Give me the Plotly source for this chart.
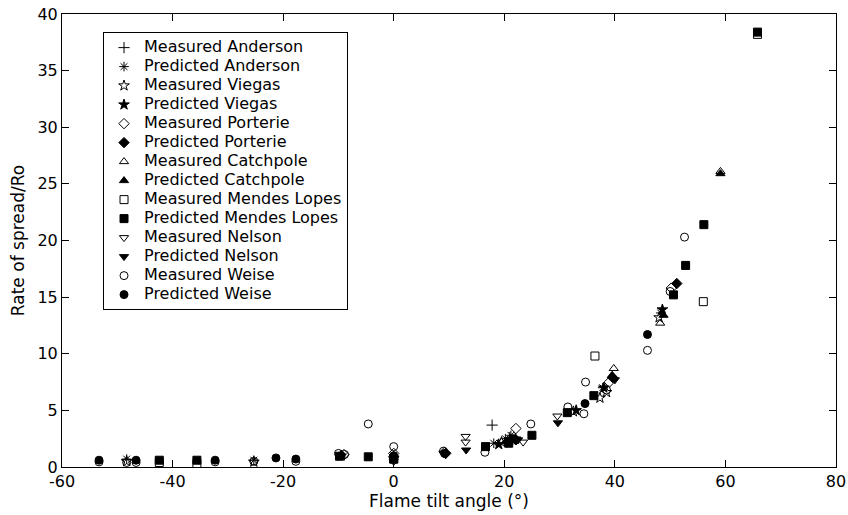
import plotly.graph_objects as go

# ---- data ----
meas_anderson_x = [17.8, 21.0]
meas_anderson_y = [3.7, 2.6]
pred_anderson_x = [-48.3, -25.3, 18.1, 20.2, 21.2, 37.8, 48.3]
pred_anderson_y = [0.7, 0.6, 2.1, 2.5, 2.8, 7.0, 13.6]

meas_viegas_x = [-48.3, -25.3, 19.5, 22.0, 32.5, 37.3, 38.5, 48.0]
meas_viegas_y = [0.5, 0.45, 2.2, 2.5, 4.9, 6.1, 6.6, 13.2]
pred_viegas_x = [-9.5, 19.0, 21.0, 33.0, 38.0, 48.6]
pred_viegas_y = [1.0, 2.0, 2.4, 5.0, 7.0, 13.9]

meas_porterie_x = [-9.0, 0.0, 9.2, 22.1, 39.0, 50.2]
meas_porterie_y = [1.1, 1.2, 1.3, 3.4, 7.5, 15.8]
pred_porterie_x = [0.0, 9.4, 20.5, 22.1, 39.6, 51.2]
pred_porterie_y = [0.9, 1.2, 2.2, 2.4, 7.9, 16.2]

meas_catchpole_x = [39.8, 48.2, 59.1]
meas_catchpole_y = [8.7, 12.7, 26.1]
pred_catchpole_x = [39.5, 48.8, 59.1]
pred_catchpole_y = [8.1, 13.4, 25.9]

meas_mendes_x = [-42.4, -35.6, 0.0, 36.4, 56.0, 65.8]
meas_mendes_y = [0.4, 0.3, 0.7, 9.8, 14.6, 38.2]
pred_mendes_x = [-42.4, -35.6, -9.8, -4.6, 0.0, 16.6, 20.8, 25.0, 31.4, 36.2, 50.6, 52.8, 56.1, 65.8]
pred_mendes_y = [0.6, 0.6, 0.95, 0.9, 0.7, 1.8, 2.1, 2.8, 4.8, 6.3, 15.2, 17.8, 21.4, 38.4]

meas_nelson_x = [0.0, 9.0, 13.0, 13.0, 23.4, 29.6]
meas_nelson_y = [0.5, 1.2, 2.7, 2.2, 2.2, 4.5]
pred_nelson_x = [0.0, 9.4, 13.1, 22.5, 29.7, 40.0]
pred_nelson_y = [0.8, 1.1, 1.5, 2.4, 3.9, 7.7]

meas_weise_x = [-53.3, -48.3, -46.6, -32.3, -25.3, -17.7, -10.0, -8.9, -4.6, 0.0, 9.0,
                16.5, 24.8, 31.5, 34.4, 34.7, 38.5, 45.9, 50.0, 52.6]
meas_weise_y = [0.45, 0.4, 0.4, 0.45, 0.5, 0.5, 1.2, 1.1, 3.8, 1.8, 1.4,
                1.3, 3.8, 5.3, 4.7, 7.5, 6.8, 10.3, 15.5, 20.3]
pred_weise_x = [-53.3, -46.6, -32.3, -21.3, -17.7, -9.5, 0.0, 9.2, 21.5, 34.6, 45.9]
pred_weise_y = [0.6, 0.6, 0.6, 0.8, 0.7, 1.0, 1.0, 1.2, 2.5, 5.6, 11.7]

x_ticks = [-60, -40, -20, 0, 20, 40, 60, 80]
y_ticks = [0, 5, 10, 15, 20, 25, 30, 35, 40]

series = [
    ("Measured Anderson", meas_anderson_x, meas_anderson_y, "cross-thin-open"),
    ("Predicted Anderson", pred_anderson_x, pred_anderson_y, "asterisk-open"),
    ("Measured Viegas", meas_viegas_x, meas_viegas_y, "star-open"),
    ("Predicted Viegas", pred_viegas_x, pred_viegas_y, "star"),
    ("Measured Porterie", meas_porterie_x, meas_porterie_y, "diamond-open"),
    ("Predicted Porterie", pred_porterie_x, pred_porterie_y, "diamond"),
    ("Measured Catchpole", meas_catchpole_x, meas_catchpole_y, "triangle-up-open"),
    ("Predicted Catchpole", pred_catchpole_x, pred_catchpole_y, "triangle-up"),
    ("Measured Mendes Lopes", meas_mendes_x, meas_mendes_y, "square-open"),
    ("Predicted Mendes Lopes", pred_mendes_x, pred_mendes_y, "square"),
    ("Measured Nelson", meas_nelson_x, meas_nelson_y, "triangle-down-open"),
    ("Predicted Nelson", pred_nelson_x, pred_nelson_y, "triangle-down"),
    ("Measured Weise", meas_weise_x, meas_weise_y, "circle-open"),
    ("Predicted Weise", pred_weise_x, pred_weise_y, "circle"),
]

font_family = "DejaVu Sans, Arial, sans-serif"

fig = go.Figure()
for name, xs, ys, sym in series:
    fig.add_trace(go.Scatter(
        x=xs, y=ys, mode="markers",
        name='<span style="font-size:16px">' + name + '</span>',
        marker=dict(symbol=sym, size=8, color="black",
                    line=dict(color="black", width=1)),
    ))

axis_common = dict(
    showline=True, linecolor="black", linewidth=1, mirror="ticks",
    ticks="inside", ticklen=7, tickcolor="black", showgrid=False, zeroline=False,
    automargin=False, ticklabeloverflow="allow",
    tickfont=dict(family=font_family, size=16, color="black"),
)
fig.update_layout(
    template="none",
    width=848, height=515,
    margin=dict(l=62, r=12, t=14, b=48),
    paper_bgcolor="white", plot_bgcolor="white",
    font=dict(family=font_family, color="black"),
    showlegend=True,
    legend=dict(
        x=0.053, y=0.96, xanchor="left", yanchor="top",
        bordercolor="black", borderwidth=1, bgcolor="white",
        font=dict(family=font_family, size=11, color="black"),
        tracegroupgap=0, itemwidth=30,
    ),
)
fig.update_xaxes(range=[-60, 80], tickvals=x_ticks, ticktext=[str(v) for v in x_ticks],
                 title=dict(text="Flame tilt angle (°)", font=dict(size=17), standoff=0),
                 **axis_common)
fig.update_yaxes(range=[0, 40], tickvals=y_ticks, ticktext=[str(v) for v in y_ticks],
                 title=dict(text="Rate of spread/Ro", font=dict(size=17), standoff=8),
                 **axis_common)

# remove the browser's default 8px body margin so the figure fills the window
fig.write_html("out.html",
               config={"displayModeBar": False},
               post_script="document.body.style.margin='0';document.body.style.overflow='hidden';")
